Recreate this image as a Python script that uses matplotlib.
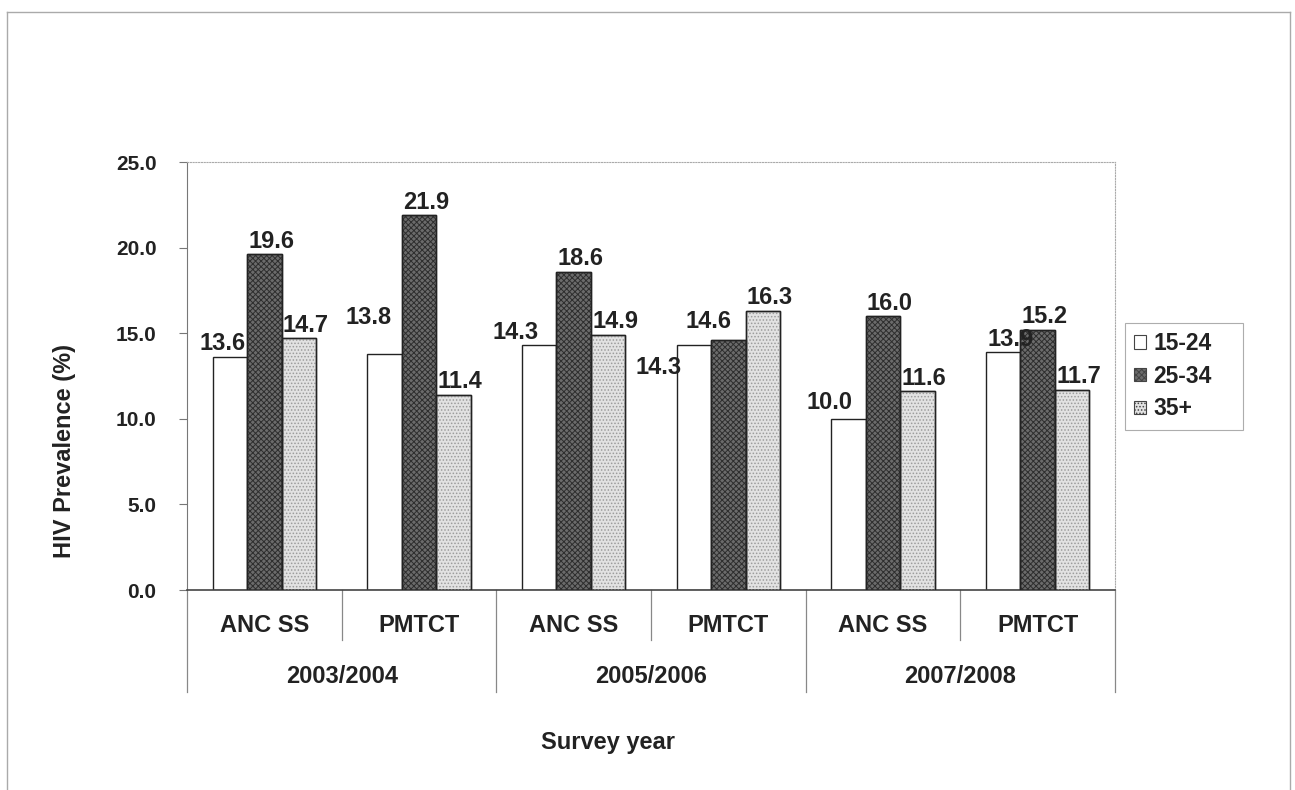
import matplotlib.pyplot as plt
from matplotlib.patches import Patch
from matplotlib.lines import Line2D
from matplotlib import transforms

plt.rcParams['font.family'] = ['Liberation Sans', 'DejaVu Sans']
plt.rcParams['font.weight'] = 'bold'
plt.rcParams['hatch.linewidth'] = 0.7

# Dane
surveys = ['ANC SS', 'PMTCT', 'ANC SS', 'PMTCT', 'ANC SS', 'PMTCT']
years = ['2003/2004', '2005/2006', '2007/2008']
age_groups = ['15-24', '25-34', '35+']
prev_15_24 = [13.6, 13.8, 14.3, 14.3, 10.0, 13.9]
prev_25_34 = [19.6, 21.9, 18.6, 14.6, 16.0, 15.2]
prev_35_plus = [14.7, 11.4, 14.9, 16.3, 11.6, 11.7]

# Przesuniecia etykiet (piksele) dla kilku slupkow, reszta domyslnie
LABEL_SHIFT = {
    (0, 0): (-7, 14),
    (1, 0): (-16, 36),
    (2, 0): (-24, 13),
    (3, 0): (-35, -22),
    (3, 1): (-20, 19),
    (4, 0): (-19, 16),
}
DEFAULT_SHIFT = (7, 13)

TXT = '#222222'
FS_VAL = 17
FS_TICK = 15
FS_CAT = 17

fig = plt.figure(figsize=(12.95, 7.9), dpi=100)
ax = fig.add_axes([187 / 1295, 1 - 590 / 790, 928 / 1295, 428 / 790])

series = [prev_15_24, prev_25_34, prev_35_plus]
faces = ['white', '#6b6b6b', '#e2e2e2']
hatches = [None, 'xxxxxx', '.....']
hatch_cols = [None, '#2e2e2e', '#9c9c9c']
w = 0.2222
x = list(range(len(surveys)))

for s, vals in enumerate(series):
    pos = [i + (s - 1) * w for i in x]
    ax.bar(pos, vals, w, color=faces[s], edgecolor='#222222', linewidth=1.0, zorder=2)
    if hatches[s]:
        ax.bar(pos, vals, w, fill=False, hatch=hatches[s], edgecolor=hatch_cols[s],
               linewidth=0, zorder=3)
        ax.bar(pos, vals, w, fill=False, edgecolor='#222222', linewidth=1.0, zorder=4)
    for i, v in enumerate(vals):
        dx, dy = LABEL_SHIFT.get((i, s), DEFAULT_SHIFT)
        ax.annotate(f'{v:.1f}', (pos[i], v), xytext=(dx, dy), textcoords='offset pixels',
                    ha='center', va='center', fontsize=FS_VAL, color=TXT, zorder=5)

ax.set_xlim(-0.5, len(surveys) - 0.5)
ax.set_ylim(0, 25)
ax.set_yticks([0, 5, 10, 15, 20, 25])
ax.set_yticklabels([f'{t:.1f}' for t in [0, 5, 10, 15, 20, 25]])
ax.tick_params(axis='y', length=6, color='#777777', pad=16, labelsize=FS_TICK, labelcolor=TXT)
ax.set_xticks([])

for side in ['top', 'right']:
    ax.spines[side].set_color('#aaaaaa')
    ax.spines[side].set_linewidth(0.8)
    ax.spines[side].set_linestyle((0, (1, 1.5)))
ax.spines['left'].set_color('#777777')
ax.spines['bottom'].set_color('#444444')
ax.spines['bottom'].set_linewidth(1.2)

# Etykiety kategorii na dwoch poziomach
tr = transforms.blended_transform_factory(ax.transData, ax.transAxes)
for i, name in enumerate(surveys):
    ax.text(i, -0.084, name, transform=tr, ha='center', va='center', fontsize=FS_CAT, color=TXT)
for j, yr in enumerate(years):
    ax.text(2 * j + 0.5, -0.203, yr, transform=tr, ha='center', va='center',
            fontsize=FS_CAT, color=TXT)

for b in range(len(surveys) + 1):
    xb = b - 0.5
    y_end = -0.238 if b % 2 == 0 else -0.117
    ax.add_line(Line2D([xb, xb], [0, y_end], transform=tr, color='#888888',
                       linewidth=0.9, clip_on=False))

fig.text(65 / 1295, 1 - 451 / 790, 'HIV Prevalence (%)', rotation=90, ha='center',
         va='center', fontsize=17, color=TXT)
fig.text(608 / 1295, 1 - 742 / 790, 'Survey year', ha='center', va='center',
         fontsize=17, color=TXT)

# Legenda
handles = [Patch(facecolor=faces[k], edgecolor='#444444', hatch=hatches[k], linewidth=0.8)
           for k in range(3)]
leg = fig.legend(handles, age_groups, loc='upper left', mode='expand',
                 bbox_to_anchor=(1125 / 1295, 1 - 420 / 790, 118 / 1295, 97 / 790),
                 borderaxespad=0, fontsize=16.5, handlelength=0.5, handleheight=0.5,
                 handletextpad=0.35, labelspacing=0.42, borderpad=0.4,
                 fancybox=False, frameon=True)
leg.get_frame().set_edgecolor('#999999')
leg.get_frame().set_linewidth(0.8)
for t in leg.get_texts():
    t.set_color(TXT)

# Ramka obszaru wykresu
frame_kw = dict(transform=fig.transFigure, color='#aaaaaa', linewidth=1)
fig.add_artist(Line2D([7 / 1295, 7 / 1295], [0, 1 - 12 / 790], **frame_kw))
fig.add_artist(Line2D([7 / 1295, 1290 / 1295], [1 - 12 / 790, 1 - 12 / 790], **frame_kw))
fig.add_artist(Line2D([1290 / 1295, 1290 / 1295], [0, 1 - 12 / 790], **frame_kw))

fig.savefig('out.png', dpi=100)
